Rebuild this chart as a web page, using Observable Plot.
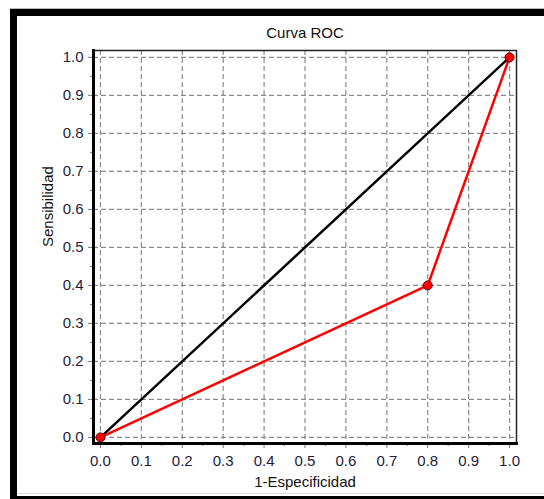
<!DOCTYPE html>
<html>
<head>
<meta charset="utf-8">
<script src="https://cdn.jsdelivr.net/npm/d3@7"></script>
<script src="https://cdn.jsdelivr.net/npm/@observablehq/plot@0.6"></script>
<style>
  html, body { margin: 0; padding: 0; background: #fff; }
  #wrap { position: relative; width: 544px; height: 499px; overflow: hidden; background: #fff; }
  #outer { position: absolute; left: 10px; top: 9px; width: 560px; height: 494px; box-sizing: border-box;
           border-top: 7px solid #000; border-left: 7px solid #000; border-bottom: 7px solid #000; }
  #gtop { position: absolute; left: 10px; top: 8px; width: 540px; height: 1px; background: #bbb; }
  #gbot { position: absolute; left: 17px; top: 493px; width: 530px; height: 1px; background: #ddd; }
  #chart { position: absolute; left: 0; top: 0; }
  #chart svg { overflow: visible; }
</style>
</head>
<body>
<div id="wrap">
  <div id="gtop"></div>
  <div id="outer"></div>
  <div id="gbot"></div>
  <div id="chart"></div>
</div>
<script>
// Data
const titleText = "Curva ROC";
const xLabel = "1-Especificidad";
const yLabel = "Sensibilidad";
const rocX = [0.0, 0.8, 1.0];      // 1-Especificidad
const rocY = [0.0, 0.4, 1.0];      // Sensibilidad
const refX = [0.0, 1.0];
const refY = [0.0, 1.0];
const majorTicks = [0, 0.1, 0.2, 0.3, 0.4, 0.5, 0.6, 0.7, 0.8, 0.9, 1.0];
const minorTicks = [0.05, 0.15, 0.25, 0.35, 0.45, 0.55, 0.65, 0.75, 0.85, 0.95];

const roc = rocX.map((x, i) => ({x, y: rocY[i]}));
const ref = refX.map((x, i) => ({x, y: refY[i]}));

const font = "'Liberation Sans', Arial, sans-serif";
const fmt = d3.format(".1f");

const chart = Plot.plot({
  width: 544,
  height: 499,
  marginLeft: 93,
  marginRight: 28,
  marginTop: 50,
  marginBottom: 56,
  style: { fontFamily: font, fontSize: "15px", background: "transparent", overflow: "visible" },
  x: { domain: [-0.017, 1.017] },
  y: { domain: [-0.016, 1.018] },
  marks: [
    Plot.gridX(majorTicks, { stroke: "#8a8a8a", strokeOpacity: 1, strokeDasharray: "5,3", strokeWidth: 1.2 }),
    Plot.gridY(majorTicks, { stroke: "#8a8a8a", strokeOpacity: 1, strokeDasharray: "5,3", strokeWidth: 1.2 }),
    Plot.axisX(minorTicks, { tickSize: 3, text: null, stroke: "#777", label: null }),
    Plot.axisY(minorTicks, { tickSize: 3, text: null, stroke: "#777", label: null }),
    Plot.axisX(majorTicks, { tickSize: 5, tickPadding: 7, tickFormat: fmt, stroke: "#777", fill: "#1c1c3a", label: null, fontSize: 15 }),
    Plot.axisY(majorTicks, { tickSize: 5, tickPadding: 5, tickFormat: fmt, stroke: "#777", fill: "#1c1c3a", label: null, fontSize: 15 }),
    Plot.frame({ stroke: "#222", strokeWidth: 1.5 }),
    Plot.frame({ anchor: "left", stroke: "#000", strokeWidth: 3 }),
    Plot.frame({ anchor: "bottom", stroke: "#000", strokeWidth: 3 }),
    Plot.line(ref, { x: "x", y: "y", stroke: "#000", strokeWidth: 2.5 }),
    Plot.line(roc, { x: "x", y: "y", stroke: "#f00", strokeWidth: 2.5 }),
    Plot.dot(roc, { x: "x", y: "y", r: 4.5, fill: "#f00", stroke: "#500", strokeWidth: 1 }),
    Plot.text([titleText], { frameAnchor: "top", dy: -17, lineAnchor: "middle", fill: "#111", fontSize: 15 }),
    Plot.text([xLabel], { frameAnchor: "bottom", dy: 39, lineAnchor: "middle", fill: "#111", fontSize: 15 }),
    Plot.text([yLabel], { frameAnchor: "left", dx: -45, rotate: -90, lineAnchor: "middle", fill: "#111", fontSize: 15 })
  ]
});
document.getElementById("chart").appendChild(chart);
</script>
</body>
</html>
